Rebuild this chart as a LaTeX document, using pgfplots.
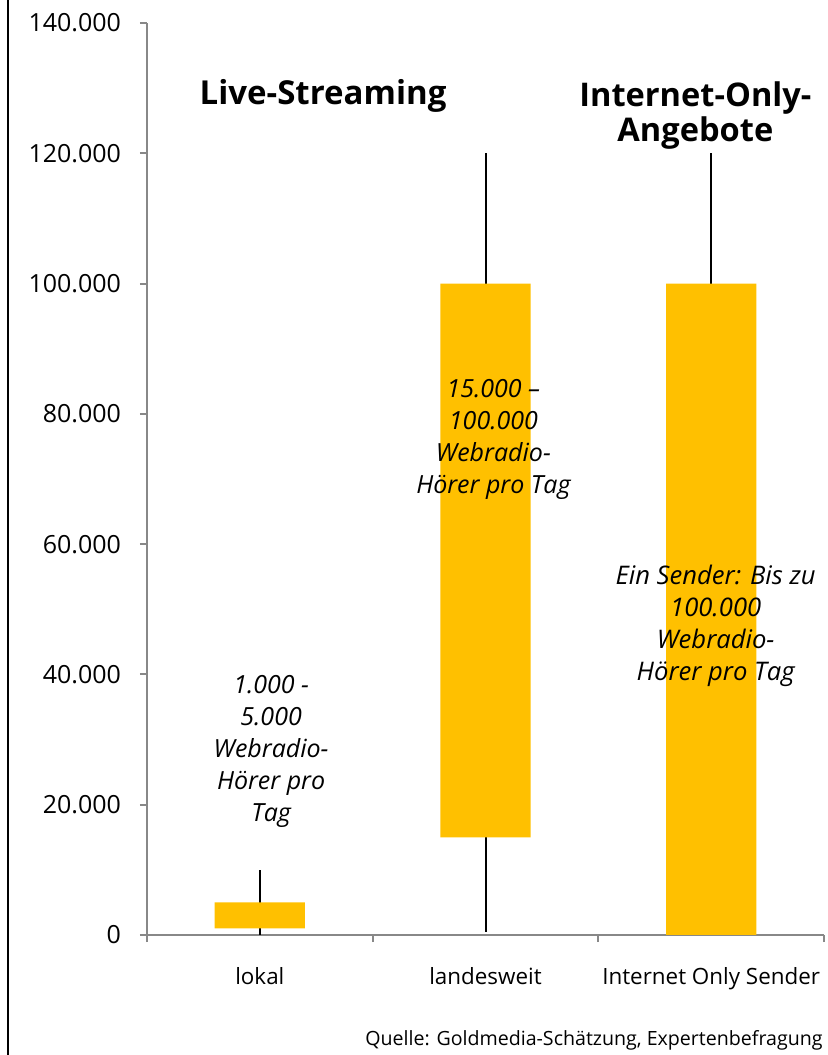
\documentclass[border=0pt]{standalone}
\usepackage{pgfplots}
\pgfplotsset{compat=1.18}
\usepackage{fontspec}
\setmainfont{Open Sans}
\definecolor{barcol}{HTML}{FFC000}
\definecolor{axgray}{HTML}{888888}
\begin{document}
\begin{tikzpicture}[x=1pt,y=1pt]
\useasboundingbox (0,0) rectangle (413.5,527.5);
\draw[line width=1pt] (4,0) -- (4,527.5);
\begin{axis}[
  at={(73.5pt,60pt)}, anchor=south west,
  scale only axis, width=338.5pt, height=456pt,
  xmin=-0.5, xmax=2.5, ymin=0, ymax=140000,
  clip=false,
  axis x line=bottom, axis y line=left,
  axis line style={axgray, line width=1pt, -},
  ytick={0,20000,40000,60000,80000,100000,120000,140000},
  yticklabels={0,20.000,40.000,60.000,80.000,100.000,120.000,140.000},
  scaled y ticks=false,
  xtick={0,1,2},
  xticklabels={lokal, landesweit, Internet Only Sender},
  minor xtick={-0.5,0.5,1.5,2.5},
  major x tick style={draw=none},
  tick align=outside,
  tick style={axgray, line width=1pt},
  major tick length=3.5pt, minor tick length=3.5pt,
  yticklabel style={font=\fontsize{12.5}{15}\selectfont, xshift=-6pt},
  xticklabel style={font=\fontsize{11.2}{13}\selectfont, yshift=-9pt},
]
% whiskers (min to max)
\addplot[black, line width=1pt] coordinates {(0,0) (0,10000)};
\addplot[black, line width=1pt] coordinates {(1,500) (1,120000)};
\addplot[black, line width=1pt] coordinates {(2,100000) (2,120000)};
% ranges as floating bars
\addplot[fill=barcol, draw=none] coordinates {(-0.2,1000) (0.2,1000) (0.2,5000) (-0.2,5000) (-0.2,1000)};
\addplot[fill=barcol, draw=none] coordinates {(0.8,15000) (1.2,15000) (1.2,100000) (0.8,100000) (0.8,15000)};
\addplot[fill=barcol, draw=none] coordinates {(1.8,0) (2.2,0) (2.2,100000) (1.8,100000) (1.8,0)};
% annotations
\node[font=\itshape\fontsize{12.5}{16}\selectfont, align=center] at (axis cs:0.05,28200) {1.000 -\\5.000\\Webradio-\\Hörer pro\\Tag};
\node[font=\itshape\fontsize{12.5}{16}\selectfont, align=center] at (axis cs:1.035,76000) {15.000 –\\100.000\\Webradio-\\Hörer pro Tag};
\node[font=\itshape\fontsize{12.8}{16}\selectfont, align=center] at (axis cs:2.02,47400) {Ein Sender: Bis zu\\100.000\\Webradio-\\Hörer pro Tag};
\node[font=\bfseries\fontsize{16.5}{17.5}\selectfont, align=center] at (axis cs:0.28,128800) {Live-Streaming};
\node[font=\bfseries\fontsize{16.3}{17.5}\selectfont, align=center] at (axis cs:1.93,125800) {Internet-Only-\\Angebote};
\end{axis}
\node[anchor=mid east, inner sep=0pt, font=\fontsize{9.8}{12}\selectfont] at (411.5,7.5) {Quelle: Goldmedia-Schätzung, Expertenbefragung};
\end{tikzpicture}
\end{document}
